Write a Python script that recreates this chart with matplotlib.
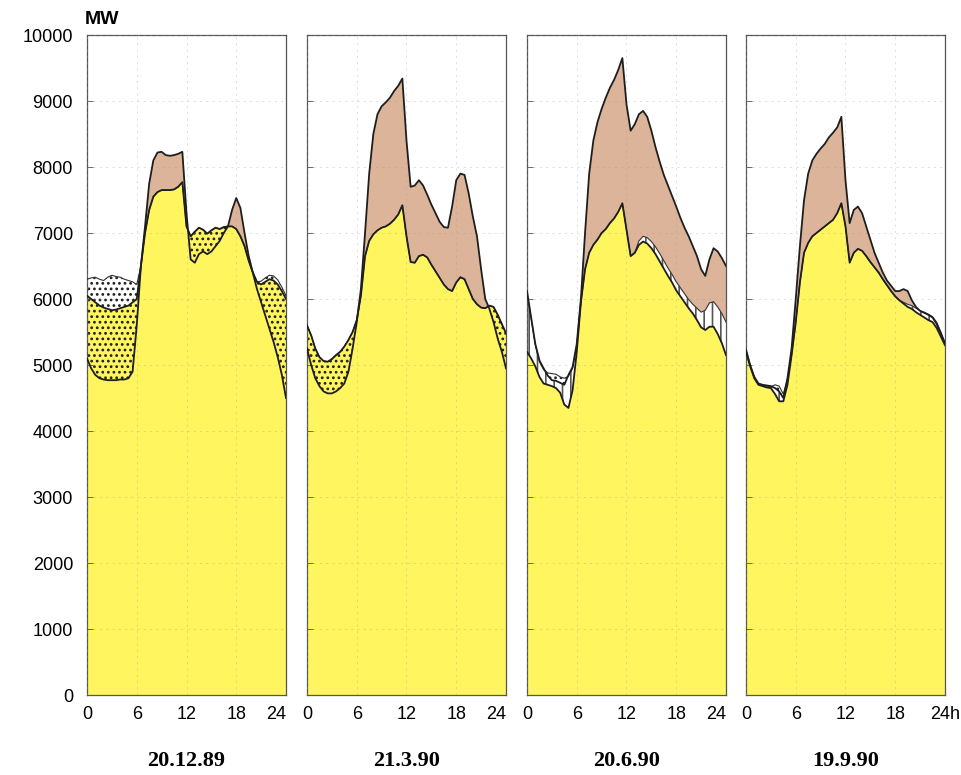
import numpy as np
import matplotlib
matplotlib.use("Agg")
import matplotlib.pyplot as plt

plt.rcParams['font.family'] = ['Liberation Sans', 'DejaVu Sans']
plt.rcParams['hatch.linewidth'] = 1.2

# half-hour steps over one day
HOURS = np.arange(0, 24.5, 0.5)
DATES = ["20.12.89", "21.3.90", "20.6.90", "19.9.90"]
Y_TICKS = [0, 1000, 2000, 3000, 4000, 5000, 6000, 7000, 8000, 9000, 10000]
X_TICKS = [0, 6, 12, 18, 24]

# consumption (MW)
LOAD_DEC = [6050, 6000, 5950, 5900, 5870, 5850, 5830, 5840, 5860, 5880, 5900, 5950,
            6000, 6500, 7000, 7350, 7550, 7620, 7650, 7650, 7650, 7660, 7700, 7770,
            7100, 6950, 7020, 7080, 7050, 6990, 7040, 7080, 7060, 7090, 7100, 7100,
            7060, 6950, 6800, 6580, 6400, 6260, 6220, 6260, 6300, 6280, 6220, 6120, 6000]
# production (MW)
PROD_DEC = [5100, 4950, 4850, 4800, 4780, 4770, 4770, 4770, 4780, 4780, 4800, 4900,
            5600, 6500, 7100, 7750, 8100, 8220, 8230, 8180, 8170, 8180, 8200, 8230,
            7300, 6600, 6550, 6680, 6720, 6680, 6720, 6800, 6880, 7000, 7100, 7350,
            7530, 7380, 7000, 6650, 6400, 6150, 5950, 5750, 5550, 5350, 5120, 4850, 4500]
# storage pumping (MW)
PUMP_DEC = [250, 320, 380, 400, 410, 480, 530, 500, 470, 420, 380, 310,
            220, 0, 0, 0, 0, 0, 0, 0, 0, 0, 0, 0,
            0, 0, 0, 0, 0, 0, 0, 0, 0, 0, 0, 0,
            0, 0, 0, 0, 0, 0, 50, 60, 60, 70, 70, 60, 50]

LOAD_MAR = [5600, 5450, 5250, 5120, 5060, 5050, 5090, 5150, 5200, 5280, 5380, 5500,
            5680, 6050, 6650, 6880, 6980, 7040, 7080, 7100, 7140, 7200, 7280, 7420,
            6950, 6560, 6550, 6650, 6670, 6630, 6520, 6420, 6320, 6220, 6150, 6120,
            6250, 6330, 6300, 6150, 6000, 5920, 5870, 5860, 5900, 5880, 5760, 5620, 5480]
PROD_MAR = [5250, 5000, 4800, 4680, 4600, 4570, 4570, 4600, 4650, 4720, 4900, 5250,
            5650, 6150, 7000, 7900, 8500, 8800, 8920, 8980, 9050, 9150, 9230, 9340,
            8400, 7700, 7720, 7800, 7720, 7580, 7430, 7300, 7170, 7090, 7080, 7400,
            7800, 7900, 7880, 7600, 7250, 6950, 6450, 6000, 5850, 5650, 5400, 5200, 4950]
PUMP_MAR = [0] * 49

LOAD_JUN = [5200, 5100, 4980, 4820, 4720, 4700, 4680, 4650, 4580, 4400, 4350, 4620,
            5200, 5950, 6450, 6700, 6820, 6900, 7000, 7060, 7150, 7220, 7320, 7450,
            7050, 6650, 6700, 6820, 6870, 6840, 6770, 6680, 6570, 6460, 6350, 6250,
            6130, 6040, 5950, 5860, 5780, 5680, 5570, 5530, 5580, 5580, 5470, 5330, 5150]
PROD_JUN = [6120, 5720, 5320, 5070, 4950, 4840, 4770, 4760, 4730, 4700, 4850, 4970,
            5320, 6000, 7000, 7900, 8400, 8680, 8880, 9050, 9200, 9320, 9470, 9650,
            8950, 8550, 8650, 8800, 8850, 8760, 8550, 8300, 8080, 7880, 7720, 7560,
            7400, 7230, 7080, 6950, 6800, 6650, 6450, 6350, 6600, 6770, 6720, 6620, 6500]
PUMP_JUN = [900, 600, 320, 230, 210, 180, 190, 210, 240, 400, 480, 330,
            100, 0, 0, 0, 0, 0, 0, 0, 0, 0, 0, 0,
            0, 0, 0, 60, 80, 90, 100, 110, 120, 120, 120, 120,
            130, 130, 130, 130, 140, 180, 230, 300, 360, 380, 410, 450, 500]

LOAD_SEP = [5200, 4980, 4800, 4700, 4680, 4660, 4650, 4560, 4450, 4450, 4700, 5150,
            5650, 6250, 6700, 6850, 6950, 7000, 7050, 7100, 7150, 7200, 7300, 7450,
            7100, 6550, 6700, 6760, 6730, 6650, 6560, 6480, 6400, 6300, 6210, 6120,
            6040, 5980, 5930, 5880, 5850, 5800, 5760, 5720, 5680, 5650, 5560, 5430, 5300]
PROD_SEP = [5230, 5000, 4820, 4720, 4700, 4690, 4680, 4650, 4600, 4500, 4800, 5250,
            6000, 6800, 7500, 7900, 8100, 8200, 8280, 8350, 8450, 8520, 8600, 8760,
            7800, 7150, 7350, 7400, 7300, 7100, 6900, 6700, 6550, 6400, 6280, 6200,
            6120, 6120, 6150, 6120, 5980, 5880, 5820, 5790, 5760, 5720, 5620, 5480, 5330]
PUMP_SEP = [20, 10, 10, 10, 10, 20, 20, 140, 230, 110, 80, 0,
            0, 0, 0, 0, 0, 0, 0, 0, 0, 0, 0, 0,
            0, 0, 0, 0, 0, 0, 0, 0, 0, 0, 0, 0,
            0, 0, 20, 40, 50, 60, 60, 80, 90, 80, 90, 70, 30]

PANELS = [
    (LOAD_DEC, PROD_DEC, PUMP_DEC),
    (LOAD_MAR, PROD_MAR, PUMP_MAR),
    (LOAD_JUN, PROD_JUN, PUMP_JUN),
    (LOAD_SEP, PROD_SEP, PUMP_SEP),
]

YELLOW = '#fff55e'
BROWN = '#dcb499'
INK = '#1e1e1e'


def draw_panel(ax, load, prod, pump):
    t = HOURS
    c = np.asarray(load, float)
    p = np.asarray(prod, float)
    cp = c + np.asarray(pump, float)

    # consumption covered by own production
    ax.fill_between(t, 0, np.minimum(c, p), facecolor=YELLOW, linewidth=0, zorder=1)
    # import surplus
    ax.fill_between(t, p, c, where=c > p, interpolate=True, facecolor=YELLOW,
                    edgecolor=INK, hatch='...', linewidth=0, zorder=1)
    # pumping covered by production
    top = np.minimum(cp, p)
    ax.fill_between(t, c, top, where=top > c, interpolate=True, facecolor='white',
                    edgecolor='#555', hatch='||', linewidth=0, zorder=1)
    # pumping covered by import
    low = np.maximum(c, p)
    ax.fill_between(t, low, cp, where=cp > low, interpolate=True, facecolor='white',
                    edgecolor=INK, hatch='...', linewidth=0, zorder=1)
    # export surplus
    ax.fill_between(t, cp, p, where=p > cp, interpolate=True, facecolor=BROWN,
                    linewidth=0, zorder=1)

    ax.plot(t, cp, color='#333', lw=0.8, zorder=3)
    ax.plot(t, c, color=INK, lw=1.3, zorder=3)
    ax.plot(t, p, color=INK, lw=1.3, zorder=3)


fig = plt.figure(figsize=(9.62, 7.75), dpi=100)
lefts = [87, 307, 527, 746]
for i, (load, prod, pump) in enumerate(PANELS):
    ax = fig.add_axes([lefts[i] / 962, 80 / 775, 199 / 962, 660 / 775])
    draw_panel(ax, load, prod, pump)
    ax.set_xlim(0, 24)
    ax.set_ylim(0, 10000)
    ax.set_axisbelow(False)
    ax.grid(True, color='#9a9a9a', lw=0.5, ls=(0, (3, 6)), alpha=0.45)
    ax.set_yticks(Y_TICKS)
    ax.set_xticks(X_TICKS)
    ax.tick_params(axis='y', direction='in', length=4, width=0.6, color='#555',
                   labelsize=13, pad=10)
    ax.tick_params(axis='x', length=0, labelsize=13, pad=8)
    if i > 0:
        ax.set_yticklabels([])
    labels = ['0', '6', '12', '18', '24h' if i == 3 else '24']
    ax.set_xticklabels(labels)
    xl = ax.get_xticklabels()
    xl[-1].set_horizontalalignment('right' if i < 3 else 'center')
    for s in ax.spines.values():
        s.set_color('#555')
        s.set_linewidth(0.9)
    ax.text(12, -0.1, DATES[i], transform=ax.get_xaxis_transform(), ha='center',
            va='center', fontsize=16, fontweight='bold', family='Liberation Serif')

fig.text(85 / 962, 1 - 20 / 775, 'MW', ha='left', va='center', fontsize=14,
         fontweight='semibold')

fig.savefig('out.png', dpi=100)
